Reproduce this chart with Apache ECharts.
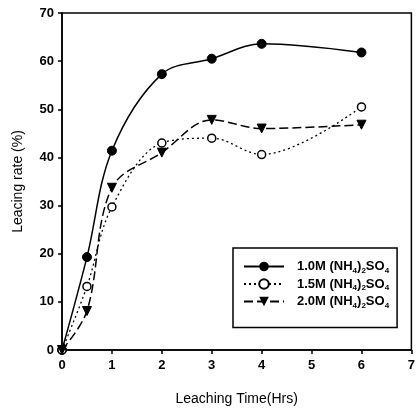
<!DOCTYPE html>
<html>
<head>
<meta charset="utf-8">
<script src="https://cdn.jsdelivr.net/npm/echarts@6/dist/echarts.min.js"></script>
<style>
  html, body { margin: 0; padding: 0; background: #fff; }
  #chart { width: 418px; height: 414px; }
</style>
</head>
<body>
<div id="chart"></div>
<script>
// time in hours
const hours = [0, 0.5, 1, 2, 3, 4, 6];
const rate10 = [0, 19.3, 41.4, 57.3, 60.5, 63.6, 61.8];
const rate15 = [0, 13.2, 29.7, 43.0, 44.0, 40.6, 50.5];
const rate20 = [0, 8.1, 33.7, 41.0, 47.8, 46.0, 46.8];
const seriesNames = ['1.0M', '1.5M', '2.0M'];
const xTicks = [0, 1, 2, 3, 4, 5, 6, 7];
const yTicks = [0, 10, 20, 30, 40, 50, 60, 70];

const font = '"Liberation Sans", Arial, sans-serif';
const pairs = ys => hours.map((h, i) => [h, ys[i]]);

const chart = echarts.init(document.getElementById('chart'));

const option = {
    animation: false,
    backgroundColor: '#fff',
    textStyle: { fontFamily: font },
    grid: {
        left: 62, right: 5, top: 13, bottom: 64,
        show: true, borderColor: '#000', borderWidth: 1.5
    },
    xAxis: {
        type: 'value',
        min: xTicks[0], max: xTicks[xTicks.length - 1], interval: 1,
        name: 'Leaching Time(Hrs)',
        nameLocation: 'middle', nameGap: 42,
        nameTextStyle: { fontSize: 14, color: '#000', fontFamily: font },
        axisLine: { lineStyle: { color: '#000', width: 1.5 } },
        axisTick: { length: 4, lineStyle: { color: '#000', width: 1.5 } },
        axisLabel: { color: '#000', fontSize: 13, fontWeight: 'bold', margin: 9, fontFamily: font },
        splitLine: { show: false }
    },
    yAxis: {
        type: 'value',
        min: yTicks[0], max: yTicks[yTicks.length - 1], interval: 10,
        name: 'Leacing rate (%)',
        nameLocation: 'middle', nameGap: 37,
        nameTextStyle: { fontSize: 14, color: '#000', fontFamily: font },
        axisLine: { lineStyle: { color: '#000', width: 1.5 } },
        axisTick: { length: 4, lineStyle: { color: '#000', width: 1.5 } },
        axisLabel: { color: '#000', fontSize: 13, fontWeight: 'bold', margin: 8, fontFamily: font },
        splitLine: { show: false }
    },
    legend: {
        orient: 'vertical',
        left: 233, top: 248,
        padding: [12, 8, 18, 10],
        itemGap: 3,
        itemWidth: 40, itemHeight: 12,
        borderColor: '#000', borderWidth: 1.5,
        backgroundColor: '#fff',
        formatter: name => name + ' (NH{s|4}){s|2}SO{s|4}',
        textStyle: {
            color: '#000', fontSize: 13, fontWeight: 'bold', fontFamily: font,
            padding: [0, 0, 0, 8],
            rich: {
                s: { fontSize: 8, fontWeight: 'bold', padding: [8, 0, 0, 0], color: '#000', fontFamily: font }
            }
        },
        data: seriesNames
    },
    series: [
        {
            name: seriesNames[0], type: 'line', smooth: 0.35,
            data: pairs(rate10),
            symbol: 'circle', symbolSize: 9,
            lineStyle: { color: '#000', width: 1.5 },
            itemStyle: { color: '#000', borderColor: '#000' }
        },
        {
            name: seriesNames[1], type: 'line', smooth: 0.35,
            data: pairs(rate15),
            symbol: 'circle', symbolSize: 8,
            lineStyle: { color: '#000', width: 1.3, type: [2, 3] },
            itemStyle: { color: '#fff', borderColor: '#000', borderWidth: 1.5 }
        },
        {
            name: seriesNames[2], type: 'line', smooth: 0.35,
            data: pairs(rate20),
            symbol: 'triangle', symbolSize: 9, symbolRotate: 180,
            lineStyle: { color: '#000', width: 1.5, type: [9, 4] },
            itemStyle: { color: '#000', borderColor: '#000' }
        }
    ]
};

chart.setOption(option);
</script>
</body>
</html>
